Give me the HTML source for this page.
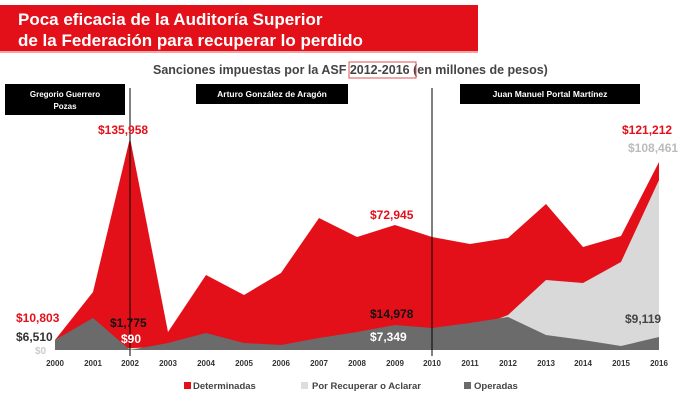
<!DOCTYPE html>
<html><head><meta charset="utf-8"><style>
body{margin:0;background:#fff;width:700px;height:402px;overflow:hidden;font-family:"Liberation Sans",sans-serif}
</style></head><body>
<svg width="700" height="402" xmlns="http://www.w3.org/2000/svg" font-family="Liberation Sans, sans-serif">
<rect x="0" y="5" width="478" height="48" fill="#e3101a"/>
<rect x="0" y="51" width="478" height="2" fill="#f5a5a5"/>
<text x="18" y="25" fill="#fff" font-size="17" font-weight="bold">Poca eficacia de la Auditoría Superior</text>
<text x="18" y="46" fill="#fff" font-size="17" font-weight="bold">de la Federación para recuperar lo perdido</text>
<text x="153" y="74" fill="#444" font-size="12.5" font-weight="bold">Sanciones impuestas por la ASF <tspan>2012-2016</tspan> (en millones de pesos)</text>
<rect x="349" y="62" width="67" height="16" fill="none" stroke="#e05050" stroke-width="1"/>
<rect x="5" y="84" width="120" height="31" fill="#000"/>
<text x="65" y="97" fill="#fff" font-size="8" font-weight="bold" text-anchor="middle">Gregorio Guerrero</text>
<text x="65" y="109" fill="#fff" font-size="8" font-weight="bold" text-anchor="middle">Pozas</text>
<rect x="196" y="84" width="152" height="20" fill="#000"/>
<text x="272" y="97" fill="#fff" font-size="8.5" font-weight="bold" text-anchor="middle">Arturo González de Aragón</text>
<rect x="460" y="84" width="180" height="20" fill="#000"/>
<text x="550" y="97" fill="#fff" font-size="8.5" font-weight="bold" text-anchor="middle">Juan Manuel Portal Martínez</text>
<polygon fill="#e3101a" points="55,350 55,340 93,292 130,138 168,332 206,275 244,295 281,273 319,218 357,237 395,225 432,237 470,244 508,238 546,204 583,247 621,236 659,162 659,350"/>
<polygon fill="#d9d9d9" points="55,350 244,345 319,347 395,343 432,340 470,330 508,315 546,280 583,283 621,262 659,180 659,350"/>
<polygon fill="#6b6b6b" points="55,350 55,340 93,318 130,350 168,343 206,333 244,343 281,345 319,338 357,332 395,325 432,328 470,323 508,317 546,335 583,340 621,346 659,337 659,350"/>
<line x1="130" y1="88" x2="130" y2="356" stroke="#000" stroke-width="1"/>
<line x1="432" y1="88" x2="432" y2="356" stroke="#000" stroke-width="1"/>
<g font-size="8" font-weight="bold" fill="#333" text-anchor="middle">
<text x="55" y="366">2000</text><text x="93" y="366">2001</text><text x="130" y="366">2002</text><text x="168" y="366">2003</text><text x="206" y="366">2004</text><text x="244" y="366">2005</text><text x="281" y="366">2006</text><text x="319" y="366">2007</text><text x="357" y="366">2008</text><text x="395" y="366">2009</text><text x="432" y="366">2010</text><text x="470" y="366">2011</text><text x="508" y="366">2012</text><text x="546" y="366">2013</text><text x="583" y="366">2014</text><text x="621" y="366">2015</text><text x="659" y="366">2016</text>
</g>
<g font-size="12" font-weight="bold">
<text x="98" y="134" fill="#e3101a">$135,958</text>
<text x="622" y="134" fill="#e3101a">$121,212</text>
<text x="628" y="152" fill="#bbb">$108,461</text>
<text x="16" y="322" fill="#e3101a">$10,803</text>
<text x="16" y="341" fill="#333">$6,510</text>
<text x="35" y="354" fill="#ccc" font-size="10">$0</text>
<text x="110" y="327" fill="#111">$1,775</text>
<text x="121" y="343" fill="#fff">$90</text>
<text x="370" y="219" fill="#e3101a">$72,945</text>
<text x="370" y="318" fill="#111">$14,978</text>
<text x="370" y="341" fill="#fff">$7,349</text>
<text x="625" y="323" fill="#444">$9,119</text>
</g>
<g font-size="9.5" font-weight="bold" fill="#444">
<rect x="184" y="382" width="7" height="7" fill="#e3101a"/><text x="193" y="389">Determinadas</text>
<rect x="301" y="382" width="7" height="7" fill="#ddd"/><text x="312" y="389">Por Recuperar o Aclarar</text>
<rect x="464" y="382" width="7" height="7" fill="#6b6b6b"/><text x="474" y="389">Operadas</text>
</g>
</svg>
</body></html>
